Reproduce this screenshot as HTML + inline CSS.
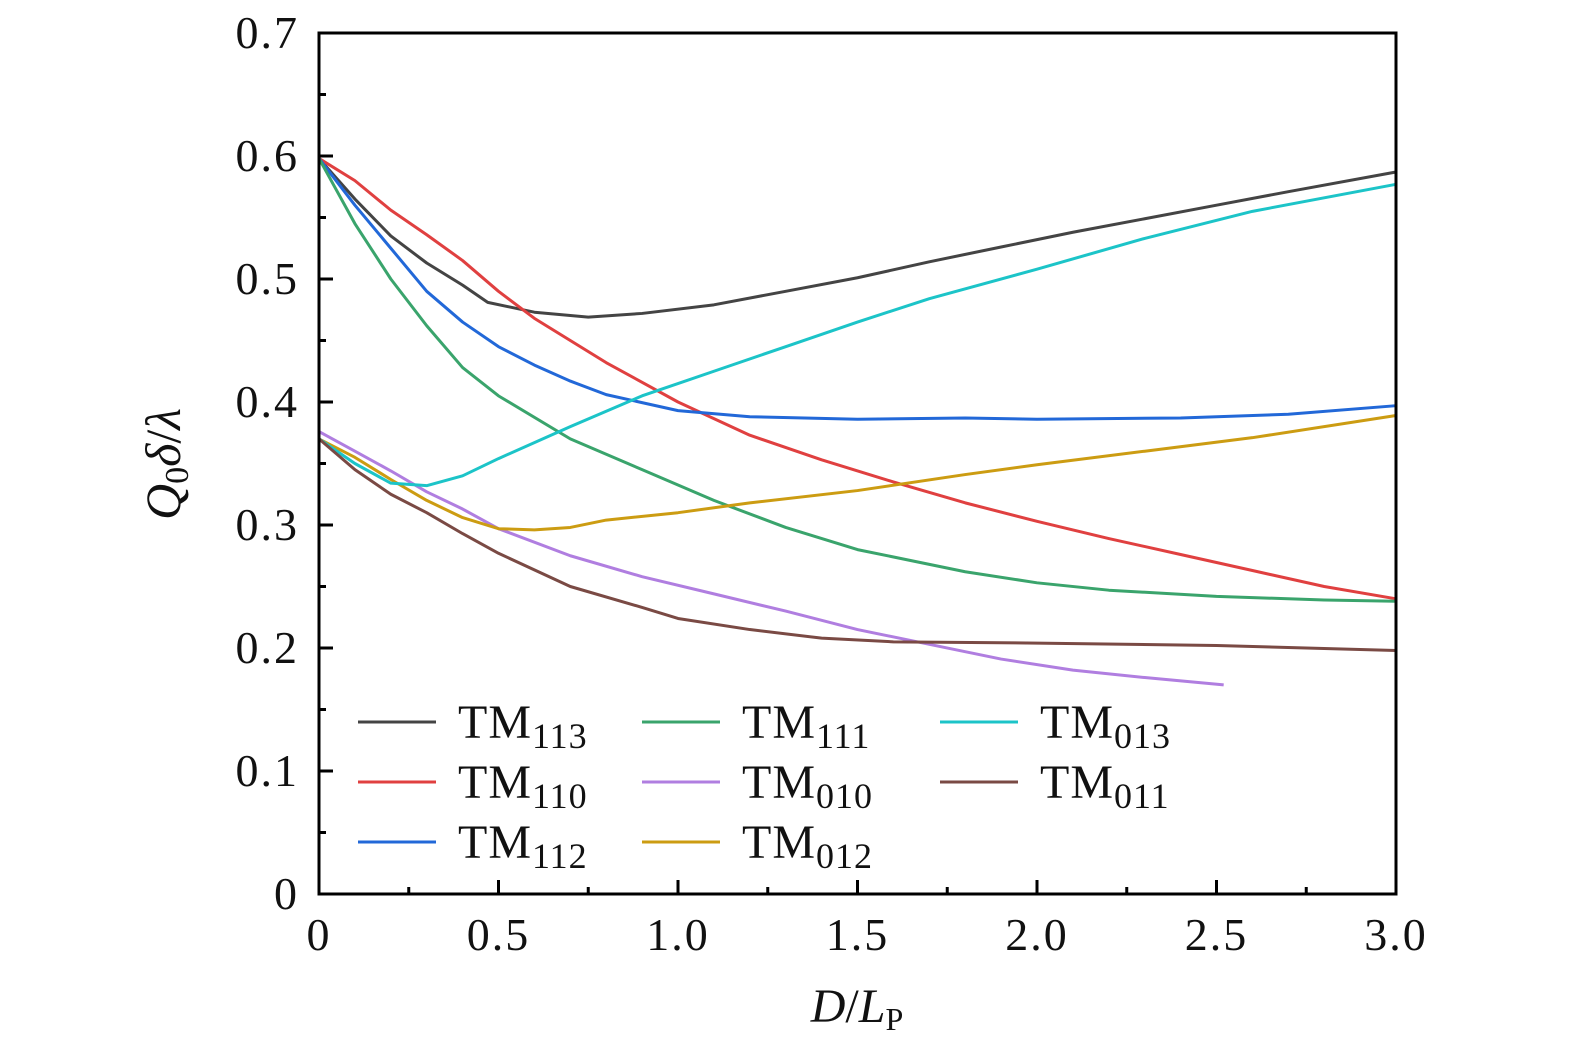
<!DOCTYPE html>
<html><head><meta charset="utf-8"><style>
body{margin:0;background:#fff;}
svg text{font-family:"Liberation Serif",serif;fill:#111;}
</style></head><body>
<svg id="chart" width="1575" height="1053" xmlns="http://www.w3.org/2000/svg">
<g id="grid"></g><g id="lines"></g><g id="axes"></g><g id="legend"></g>
</svg>
<script>
const seriesNames = ["TM113","TM110","TM112","TM111","TM010","TM012","TM013","TM011"];
const seriesColors = ["#444444","#e04040","#2268d8","#3aa46c","#b07ee0","#cc9c12","#1cc4c8","#7a4a44"];
const xTicks = [0,0.5,1.0,1.5,2.0,2.5,3.0];
const xTickLabels = ["0","0.5","1.0","1.5","2.0","2.5","3.0"];
const yTicks = [0,0.1,0.2,0.3,0.4,0.5,0.6,0.7];
const yTickLabels = ["0","0.1","0.2","0.3","0.4","0.5","0.6","0.7"];
const tm113 = [[0,0.598],[0.1,0.565],[0.2,0.535],[0.3,0.513],[0.4,0.495],[0.47,0.481],[0.6,0.473],[0.75,0.469],[0.9,0.472],[1.1,0.479],[1.3,0.49],[1.5,0.501],[1.7,0.514],[1.9,0.526],[2.1,0.538],[2.3,0.549],[2.5,0.56],[2.7,0.571],[3.0,0.587]];
const tm110 = [[0,0.598],[0.1,0.58],[0.2,0.556],[0.3,0.536],[0.4,0.515],[0.5,0.49],[0.6,0.468],[0.8,0.432],[1.0,0.4],[1.2,0.373],[1.4,0.353],[1.6,0.335],[1.8,0.318],[2.0,0.303],[2.2,0.289],[2.4,0.276],[2.6,0.263],[2.8,0.25],[3.0,0.24]];
const tm112 = [[0,0.598],[0.1,0.56],[0.2,0.525],[0.3,0.49],[0.4,0.465],[0.5,0.445],[0.6,0.43],[0.7,0.417],[0.8,0.406],[1.0,0.393],[1.2,0.388],[1.5,0.386],[1.8,0.387],[2.0,0.386],[2.4,0.387],[2.7,0.39],[3.0,0.397]];
const tm111 = [[0,0.598],[0.1,0.545],[0.2,0.5],[0.3,0.462],[0.4,0.428],[0.5,0.405],[0.7,0.37],[0.9,0.345],[1.1,0.32],[1.3,0.298],[1.5,0.28],[1.8,0.262],[2.0,0.253],[2.2,0.247],[2.5,0.242],[2.8,0.239],[3.0,0.238]];
const tm010 = [[0,0.376],[0.1,0.36],[0.2,0.344],[0.3,0.327],[0.4,0.313],[0.5,0.297],[0.7,0.275],[0.9,0.258],[1.1,0.244],[1.3,0.23],[1.5,0.215],[1.7,0.203],[1.9,0.191],[2.1,0.182],[2.3,0.176],[2.52,0.17]];
const tm012 = [[0,0.37],[0.1,0.355],[0.2,0.337],[0.3,0.32],[0.4,0.306],[0.5,0.297],[0.6,0.296],[0.7,0.298],[0.8,0.304],[1.0,0.31],[1.2,0.318],[1.5,0.328],[1.8,0.341],[2.0,0.349],[2.3,0.36],[2.6,0.371],[3.0,0.389]];
const tm013 = [[0,0.37],[0.1,0.35],[0.2,0.334],[0.3,0.332],[0.4,0.34],[0.5,0.354],[0.7,0.38],[0.9,0.405],[1.1,0.425],[1.3,0.445],[1.5,0.465],[1.7,0.484],[2.0,0.508],[2.3,0.533],[2.6,0.555],[3.0,0.577]];
const tm011 = [[0,0.37],[0.1,0.345],[0.2,0.325],[0.3,0.31],[0.4,0.293],[0.5,0.277],[0.7,0.25],[0.9,0.233],[1.0,0.224],[1.2,0.215],[1.4,0.208],[1.6,0.205],[2.0,0.204],[2.5,0.202],[3.0,0.198]];
const allSeries = [tm113,tm110,tm112,tm111,tm010,tm012,tm013,tm011];

const X0=319,X1=1396,Y0=894,Y1=33;
const xs = v => X0 + (v/3)*(X1-X0);
const ys = v => Y0 - (v/0.7)*(Y0-Y1);
const NS="http://www.w3.org/2000/svg";
function mk(tag, attrs, parent){const e=document.createElementNS(NS,tag);for(const k in attrs)e.setAttribute(k,attrs[k]);parent.appendChild(e);return e;}
const linesG=document.getElementById('lines'), axesG=document.getElementById('axes'), legG=document.getElementById('legend');

allSeries.forEach((s,i)=>{
  const p=mk('polyline',{points:s.map(d=>xs(d[0])+','+ys(d[1])).join(' '),fill:'none',stroke:seriesColors[i],'stroke-width':3,'stroke-linejoin':'round'},linesG);
  
  
});

const frame=mk('rect',{x:X0,y:Y1,width:X1-X0,height:Y0-Y1,fill:'none',stroke:'#000','stroke-width':3},axesG);



xTicks.forEach((v,i)=>{
  mk('line',{x1:xs(v),x2:xs(v),y1:Y0,y2:Y0-14,stroke:'#000','stroke-width':3},axesG);
  const m=v+0.25; if(m<3) mk('line',{x1:xs(m),x2:xs(m),y1:Y0,y2:Y0-7,stroke:'#000','stroke-width':3},axesG);
  const t=mk('text',{x:xs(v),y:Y0+56,'text-anchor':'middle','font-size':46,'letter-spacing':2},axesG);
  t.textContent=xTickLabels[i];
  
  
});
yTicks.forEach((v,i)=>{
  mk('line',{x1:X0,x2:X0+14,y1:ys(v),y2:ys(v),stroke:'#000','stroke-width':3},axesG);
  const m=v+0.05; if(m<0.7) mk('line',{x1:X0,x2:X0+7,y1:ys(m),y2:ys(m),stroke:'#000','stroke-width':3},axesG);
  const t=mk('text',{x:X0-20,y:ys(v)+15,'text-anchor':'end','font-size':46,'letter-spacing':2},axesG);
  t.textContent=yTickLabels[i];
  
  
});

const xt=mk('text',{x:857,y:1022,'text-anchor':'middle','font-size':48},axesG);
xt.innerHTML='<tspan font-style="italic">D</tspan>/<tspan font-style="italic">L</tspan><tspan font-size="32" dy="8">P</tspan>';


const yt=mk('text',{x:0,y:0,'text-anchor':'middle','font-size':50,transform:'translate(180,464) rotate(-90)'},axesG);
yt.innerHTML='<tspan font-style="italic">Q</tspan><tspan font-size="34" dy="8">0</tspan><tspan dy="-8" font-style="italic">δ</tspan>/<tspan font-style="italic">λ</tspan>';



const legPos=[[358,722],[358,782],[358,842],[642,722],[642,782],[642,842],[940,722],[940,782]];
seriesNames.forEach((n,i)=>{
  const [lx,ly]=legPos[i];
  const g=mk('g',{},legG);
  
  
  mk('line',{x1:lx,x2:lx+78,y1:ly,y2:ly,stroke:seriesColors[i],'stroke-width':3},g);
  const t=mk('text',{x:lx+100,y:ly+16,'font-size':48,'letter-spacing':1},g);
  t.innerHTML='TM<tspan font-size="36" dy="10">'+n.slice(2)+'</tspan>';
});
</script>
</body></html>
